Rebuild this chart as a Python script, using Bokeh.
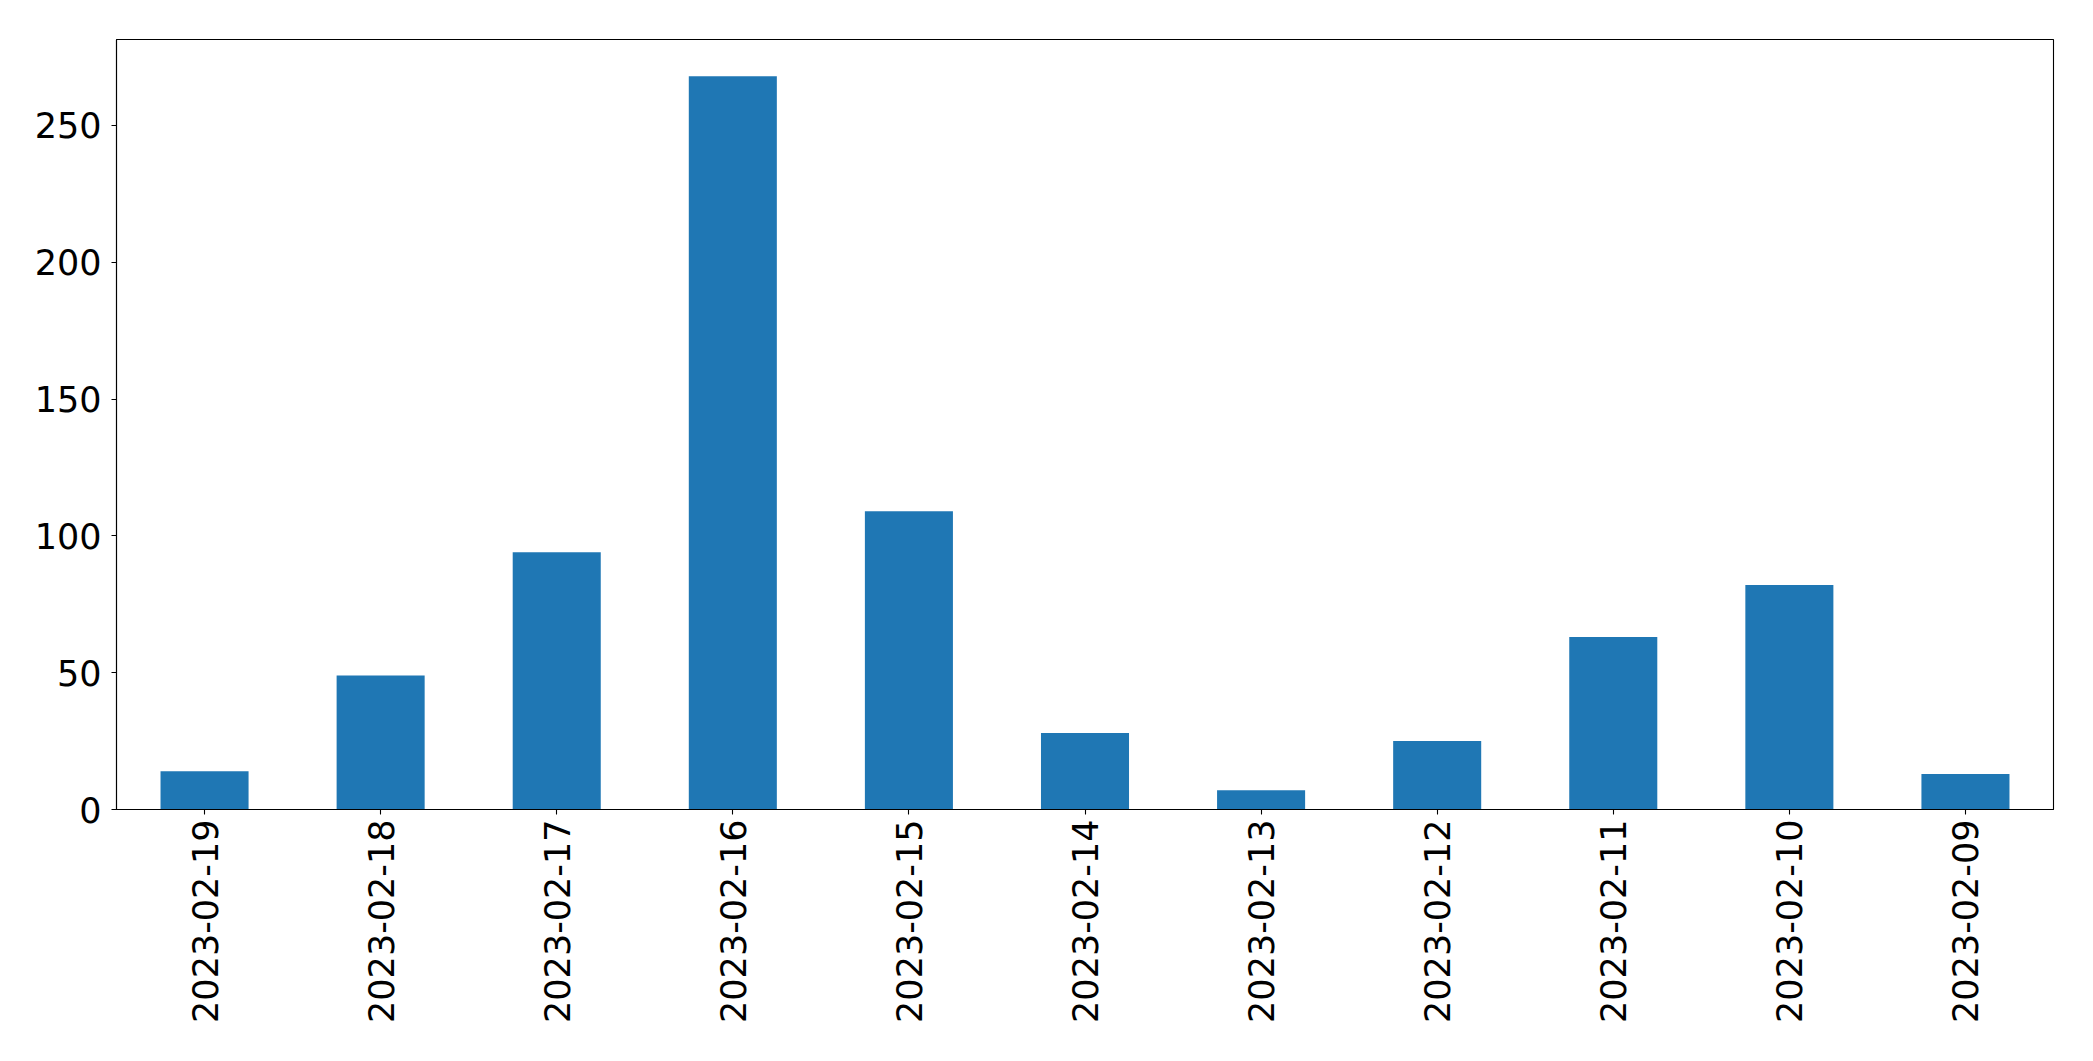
import math
from bokeh.plotting import figure
from bokeh.models import ColumnDataSource, FactorRange, Range1d, FixedTicker
from bokeh.embed import file_html
from bokeh.resources import INLINE

dates = ["2023-02-19", "2023-02-18", "2023-02-17", "2023-02-16", "2023-02-15",
         "2023-02-14", "2023-02-13", "2023-02-12", "2023-02-11", "2023-02-10",
         "2023-02-09"]
counts = [14, 49, 94, 268, 109, 28, 7, 25, 63, 82, 13]
y_ticks = [0, 50, 100, 150, 200, 250]

src = ColumnDataSource(dict(date=dates, count=counts))

p = figure(x_range=FactorRange(*dates), y_range=Range1d(0, max(counts) * 1.05),
           width=2085, height=1053, output_backend="svg", toolbar_location=None,
           min_border_left=116, min_border_right=32, min_border_top=39,
           min_border_bottom=244)

p.vbar(x="date", top="count", width=0.5, source=src, fill_color="#1f77b4",
       line_color=None)

p.xgrid.visible = False
p.ygrid.visible = False
p.outline_line_color = "black"
p.outline_line_width = 1.1
p.background_fill_color = "white"
p.border_fill_color = "white"

for ax in (p.xaxis[0], p.yaxis[0]):
    ax.axis_line_color = "black"
    ax.axis_line_width = 1.1
    ax.major_tick_line_color = "black"
    ax.major_tick_line_width = 1.1
    ax.major_tick_in = 0
    ax.major_tick_out = 5
    ax.minor_tick_line_color = None
    ax.major_label_text_font = "DejaVu Sans"
    ax.major_label_text_font_size = "35px"
    ax.major_label_text_color = "black"

p.yaxis[0].ticker = FixedTicker(ticks=y_ticks)
p.yaxis[0].major_label_standoff = 10
p.xaxis[0].major_label_orientation = math.pi / 2
p.xaxis[0].major_label_standoff = 5

open("out.html", "w").write(file_html(p, INLINE))
